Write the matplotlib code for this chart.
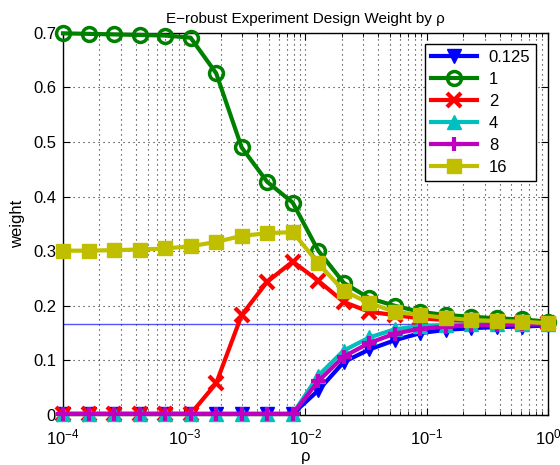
import numpy as np
import matplotlib
matplotlib.use("Agg")
import matplotlib.pyplot as plt
from matplotlib.ticker import LogLocator, NullFormatter

plt.rcParams['font.family'] = ['Liberation Sans', 'DejaVu Sans']

# rho grid (20 points, log spaced from 1e-4 to 1)
rho = [1.0e-4, 1.624e-4, 2.637e-4, 4.281e-4, 6.952e-4, 1.129e-3, 1.833e-3,
       2.976e-3, 4.833e-3, 7.848e-3, 1.274e-2, 2.069e-2, 3.360e-2, 5.456e-2,
       8.859e-2, 0.1438, 0.2336, 0.3793, 0.6158, 1.0]

w_0125 = [0.002, 0.002, 0.002, 0.002, 0.002, 0.002, 0.002, 0.002, 0.002, 0.002,
          0.045, 0.097, 0.120, 0.137, 0.150, 0.156, 0.159, 0.161, 0.162, 0.164]
w_1 = [0.699, 0.698, 0.697, 0.696, 0.695, 0.691, 0.626, 0.490, 0.427, 0.389,
       0.301, 0.242, 0.214, 0.200, 0.189, 0.183, 0.180, 0.177, 0.175, 0.171]
w_2 = [0.002, 0.002, 0.002, 0.002, 0.002, 0.002, 0.058, 0.183, 0.244, 0.281,
       0.246, 0.207, 0.189, 0.183, 0.177, 0.174, 0.172, 0.170, 0.169, 0.168]
w_4 = [0.002, 0.002, 0.002, 0.002, 0.002, 0.002, 0.002, 0.002, 0.002, 0.002,
       0.072, 0.118, 0.142, 0.157, 0.163, 0.165, 0.166, 0.166, 0.167, 0.167]
w_8 = [0.002, 0.002, 0.002, 0.002, 0.002, 0.002, 0.002, 0.002, 0.002, 0.002,
       0.062, 0.107, 0.132, 0.149, 0.158, 0.162, 0.164, 0.165, 0.166, 0.166]
w_16 = [0.301, 0.301, 0.302, 0.303, 0.305, 0.309, 0.317, 0.328, 0.333, 0.335,
        0.278, 0.227, 0.205, 0.189, 0.183, 0.178, 0.174, 0.172, 0.171, 0.168]
uniform = 1.0 / 6

labels = ['0.125', '1', '2', '4', '8', '16']
series = [w_0125, w_1, w_2, w_4, w_8, w_16]
colors = ['#0000ff', '#008000', '#ff0000', '#00bfbf', '#bf00bf', '#bfbf00']
markers = ['v', 'o', 'x', '^', '+', 's']

fig = plt.figure(figsize=(5.6, 4.65), dpi=100)
ax = fig.add_axes([0.1125, 0.1075, 0.866, 0.822])

ax.axhline(uniform, color='#5555ff', lw=1.0, zorder=1)

for y, lab, c, m in zip(series, labels, colors, markers):
    if m == 'o':
        ax.plot(rho, y, color=c, lw=3, marker=m, ms=10, mfc='none', mew=2.5,
                label=lab, clip_on=False, zorder=3)
    elif m in ('x', '+'):
        ax.plot(rho, y, color=c, lw=3, marker=m, ms=10, mew=3,
                label=lab, clip_on=False, zorder=3)
    else:
        ax.plot(rho, y, color=c, lw=3, marker=m, ms=10.5, mew=1,
                label=lab, clip_on=False, zorder=3)

ax.set_xscale('log')
ax.set_xlim(1e-4, 1)
ax.set_ylim(0, 0.7)
ax.set_yticks([0, 0.1, 0.2, 0.3, 0.4, 0.5, 0.6, 0.7])
ax.set_yticklabels(['0', '0.1', '0.2', '0.3', '0.4', '0.5', '0.6', '0.7'])
ax.xaxis.set_major_locator(LogLocator(base=10, numticks=10))
ax.xaxis.set_minor_locator(LogLocator(base=10, subs=np.arange(2, 10), numticks=20))
ax.xaxis.set_minor_formatter(NullFormatter())

gstyle = dict(ls=(0, (1, 3.5)), color='#222222', lw=0.8)
ax.grid(True, which='major', **gstyle)
ax.grid(True, which='minor', axis='x', **gstyle)
ax.tick_params(which='both', direction='in', top=True, right=True, labelsize=12)
ax.tick_params(axis='x', which='major', pad=9)
ax.tick_params(axis='y', which='major', pad=5)
ax.tick_params(which='major', length=5)
ax.tick_params(which='minor', length=3)
for s in ax.spines.values():
    s.set_linewidth(1.0)

ax.set_title('E\u2212robust Experiment Design Weight by \u03c1', fontsize=11, pad=7)
ax.set_xlabel('\u03c1', fontsize=12, labelpad=1)
ax.set_ylabel('weight', fontsize=12, labelpad=6)

leg = ax.legend(loc='upper right', fontsize=12, fancybox=False, edgecolor='k',
                framealpha=1, borderaxespad=0.7, handlelength=2.8,
                labelspacing=0.42, borderpad=0.35, handletextpad=0.7,
                markerscale=1.0)
leg.get_frame().set_linewidth(1.0)

fig.savefig('out.png', dpi=100)
